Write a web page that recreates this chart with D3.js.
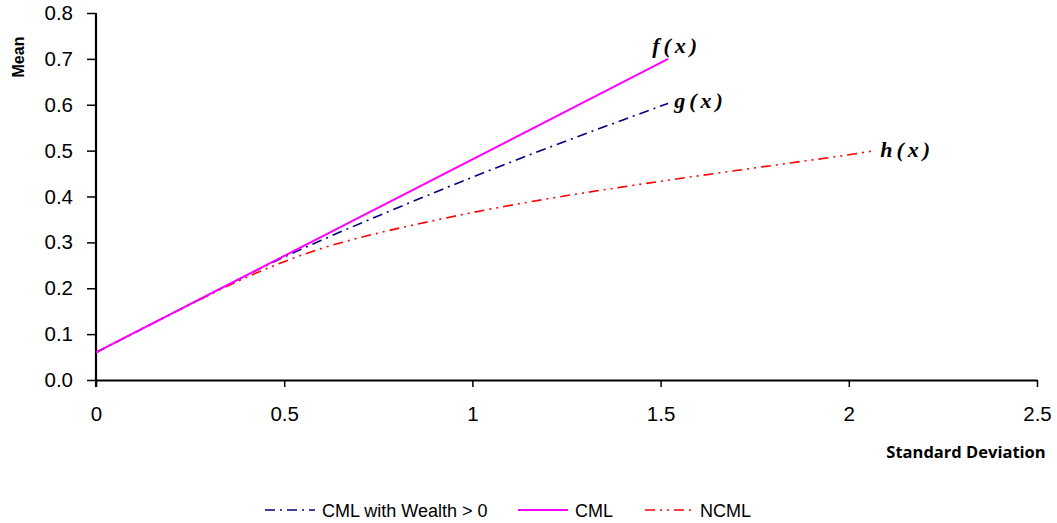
<!DOCTYPE html>
<html>
<head>
<meta charset="utf-8">
<script src="https://cdn.jsdelivr.net/npm/d3@7"></script>
<style>
  body { margin: 0; background: #fff; }
  svg { display: block; }
</style>
</head>
<body>
<svg></svg>
<script>
// constants
const WIDTH = 1057;
const HEIGHT = 523;

// data
const cmlX = [0, 1.52];
const cmlY = [0.06, 0.70];

const wealthX = [0, 0.2, 0.4, 0.5, 0.6, 0.8, 1.0, 1.2, 1.4, 1.52];
const wealthY = [0.06, 0.144, 0.228, 0.268, 0.305, 0.375, 0.442, 0.506, 0.567, 0.603];

const ncmlX = [0, 0.2, 0.3, 0.4, 0.5, 0.6, 0.7, 0.8, 0.9, 1.0, 1.2, 1.4, 1.6, 1.8, 2.0, 2.07];
const ncmlY = [0.06, 0.144, 0.185, 0.224, 0.258, 0.287, 0.310, 0.330, 0.348, 0.365, 0.395, 0.421, 0.445, 0.468, 0.491, 0.50];

const xTicks = [0, 0.5, 1, 1.5, 2, 2.5];
const yTicks = [0, 0.1, 0.2, 0.3, 0.4, 0.5, 0.6, 0.7, 0.8];

const seriesNames = ['CML with Wealth > 0', 'CML', 'NCML'];
const curveLabels = ['g(x)', 'f(x)', 'h(x)'];

//svg
const svg = d3.select('svg')
    .attr('width', WIDTH)
    .attr('height', HEIGHT);

// scales
const x = d3.scaleLinear().domain([0, 2.5]).range([96, 1037]);
const y = d3.scaleLinear().domain([0, 0.8]).range([380, 13]);

// axes
const xAxis = svg.append('g')
    .attr('transform', `translate(0, ${y(0)})`)
    .call(d3.axisBottom(x).tickValues(xTicks).tickFormat(d3.format('')).tickSize(7).tickSizeOuter(0).tickPadding(19));
xAxis.select('.domain').attr('stroke-width', 1.8);
xAxis.selectAll('.tick line').attr('stroke-width', 1.5);

const yAxis = svg.append('g')
    .attr('transform', `translate(${x(0)}, 0)`)
    .call(d3.axisLeft(y).tickValues(yTicks).tickFormat(d3.format('.1f')).tickSize(9).tickSizeOuter(0).tickPadding(14));
yAxis.select('.domain').attr('stroke-width', 2.2).attr('d', `M0,${y(0.8)}V${y(0) + 7}`);
yAxis.selectAll('.tick line').attr('stroke-width', 1.5);

svg.selectAll('.tick text')
    .attr('font-family', 'Liberation Sans, Arial, sans-serif')
    .attr('font-size', 20.5)
    .attr('fill', '#000');

// axis titles
svg.append('text')
    .attr('transform', 'translate(24, 57) rotate(-90)')
    .attr('text-anchor', 'middle')
    .attr('font-family', 'Liberation Sans, Arial, sans-serif')
    .attr('font-weight', 'bold')
    .attr('font-size', 16)
    .text('Mean');

svg.append('text')
    .attr('x', 966)
    .attr('y', 458)
    .attr('text-anchor', 'middle')
    .attr('font-family', 'Open Sans, DejaVu Sans, sans-serif')
    .attr('font-weight', 'bold')
    .attr('font-size', 16.5)
    .text('Standard Deviation');

// lines
const series = [
    { name: seriesNames[0], xs: wealthX, ys: wealthY, color: '#000080', dash: '10,5,2,5', width: 1.6 },
    { name: seriesNames[1], xs: cmlX, ys: cmlY, color: '#ff00ff', dash: null, width: 2 },
    { name: seriesNames[2], xs: ncmlX, ys: ncmlY, color: '#ff0000', dash: '10,5,2,5,2,5', width: 1.6 }
];

const line = d3.line()
    .x(d => x(d[0]))
    .y(d => y(d[1]))
    .curve(d3.curveMonotoneX);

// draw NCML and wealth first, CML on top
[series[2], series[0], series[1]].forEach(s => {
    svg.append('path')
        .datum(s.xs.map((v, i) => [v, s.ys[i]]))
        .attr('fill', 'none')
        .attr('stroke', s.color)
        .attr('stroke-width', s.width)
        .attr('stroke-dasharray', s.dash)
        .attr('d', line);
});

// curve labels at line ends
const labelOffsets = [[6, 5], [-16, -6], [5, 6]];
series.forEach((s, i) => {
    const n = s.xs.length - 1;
    svg.append('text')
        .attr('x', x(s.xs[n]) + labelOffsets[i][0])
        .attr('y', y(s.ys[n]) + labelOffsets[i][1])
        .attr('font-family', 'Liberation Serif, DejaVu Serif, serif')
        .attr('font-style', 'italic')
        .attr('font-weight', 'bold')
        .attr('font-size', 22)
        .attr('letter-spacing', 4)
        .text(curveLabels[i]);
});

// legend
const legendX = [265, 518, 645];
const legend = svg.append('g')
    .attr('transform', 'translate(0, 510)');

const item = legend.selectAll('g')
    .data(series).join('g')
    .attr('transform', (d, i) => `translate(${legendX[i]}, 0)`);

item.append('line')
    .attr('x1', 0)
    .attr('x2', 50)
    .attr('stroke', d => d.color)
    .attr('stroke-width', d => d.width)
    .attr('stroke-dasharray', d => d.dash);

item.append('text')
    .attr('x', (d, i) => i === 2 ? 55 : 57)
    .attr('y', 7)
    .attr('font-family', 'Liberation Sans, Arial, sans-serif')
    .attr('font-size', 18)
    .text(d => d.name);
</script>
</body>
</html>
